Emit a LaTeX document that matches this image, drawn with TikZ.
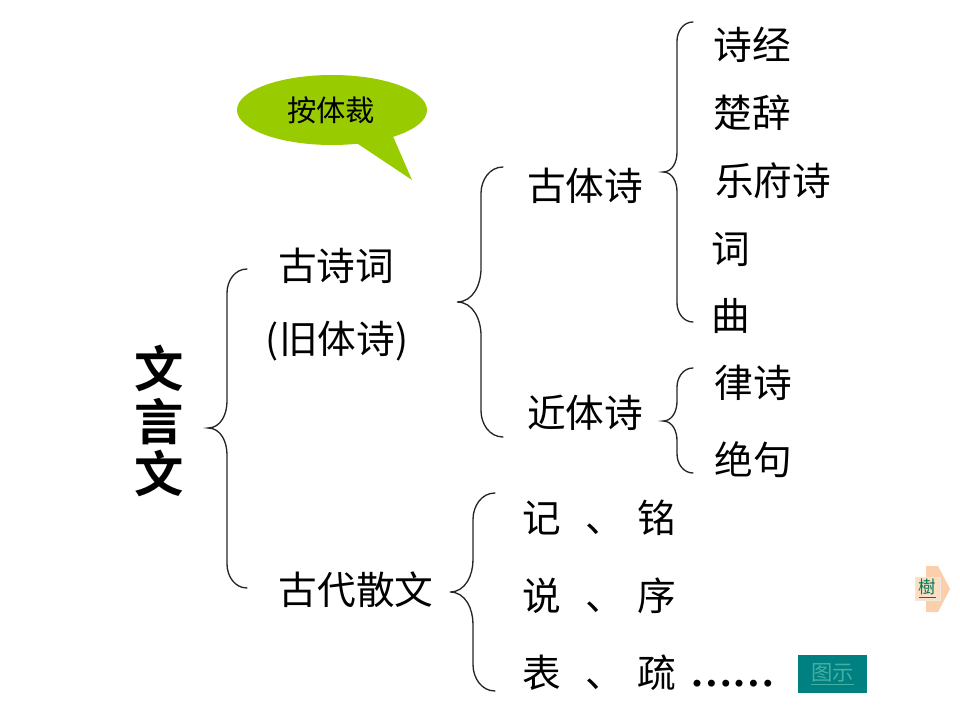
\documentclass[tikz,border=0pt]{standalone}
\usepackage{fontspec}
\newfontfamily\cjk{Noto Sans CJK SC}
\newfontfamily\cjkb{Noto Sans CJK SC Bold}
\newfontfamily\serifdots{Liberation Serif}
\definecolor{bubble}{RGB}{153,204,0}
\definecolor{tealbtn}{RGB}{0,128,128}
\definecolor{tealtxt}{RGB}{70,175,165}
\definecolor{peach}{RGB}{252,222,195}
\definecolor{arroworange}{RGB}{250,195,150}
\definecolor{treegreen}{RGB}{0,120,90}
\newcommand\curlybrace[6]{%
  \draw[bracestyle] (#1,#2) to[out=180,in=90] (#4,{#2+1.2*(#1-#4)})
    -- (#4,{#6-1.4*(#4-#5)}) to[out=-90,in=0] (#5,#6)
    to[out=0,in=90] (#4,{#6+1.4*(#4-#5)})
    -- (#4,{#3-1.2*(#1-#4)}) to[out=-90,in=180] (#1,#3);}
\begin{document}
\begin{tikzpicture}[x=0.75pt,y=-0.75pt,
  every node/.style={inner sep=0pt,outer sep=0pt},
  txt/.style={font=\cjk\fontsize{29}{29}\selectfont},
  bracestyle/.style={line width=1pt,draw=black!85,line cap=round}]
\useasboundingbox (0,0) rectangle (960,720);
\fill[white] (0,0) rectangle (960,720);

% speech bubble
\fill[bubble] (332,110) ellipse [x radius=95, y radius=35];
\fill[bubble] (352,140) -- (392,134) -- (412,180) -- cycle;
\node[font=\cjk\fontsize{22}{22}\selectfont] (bubtxt) at (331,110) {按体裁};

% root
\node[font=\cjkb\fontsize{37}{39.4}\selectfont,align=center] (wyw) at (159,421) {文\\言\\文};

% braces
\curlybrace{247}{269}{588}{227}{208}{428}
\curlybrace{503}{167}{437}{481}{457}{302}
\curlybrace{693}{22}{322}{677}{663}{172}
\curlybrace{693}{368}{473}{677}{663}{421}
\curlybrace{495}{493}{691}{473}{450}{592}

% level 1
\node[txt] (gsc) at (336,266) {古诗词};
\node[txt] (jts) at (337,341) {(旧体诗)};
\node[txt] (gdsw) at (356,590) {古代散文};

% level 2
\node[txt] (gts) at (585,186) {古体诗};
\node[txt] (jints) at (585,413) {近体诗};

% level 3
\node[txt] (sj) at (752,45) {诗经};
\node[txt] (cc) at (752,113) {楚辞};
\node[txt] (yfs) at (773,181) {乐府诗};
\node[txt] (ci) at (731,249) {词};
\node[txt] (qu) at (731,316) {曲};
\node[txt] (ls) at (753,383) {律诗};
\node[txt] (jj) at (753,460) {绝句};

% prose
\node[txt] (ji) at (542,518) {记};
\node[txt] (d1) at (605,529) {、};
\node[txt] (ming) at (657,518) {铭};
\node[txt] (shuo) at (542,596) {说};
\node[txt] (d2) at (605,607) {、};
\node[txt] (xu) at (657,596) {序};
\node[txt] (biao) at (542,673) {表};
\node[txt] (d3) at (605,684) {、};
\node[txt] (shu) at (657,673) {疏};
\node[font=\serifdots\bfseries\fontsize{32}{32}\selectfont,anchor=base west] (dots) at (690,686) {……};

% buttons
\node[fill=tealbtn,minimum width=51.75pt,minimum height=28.5pt,
      text=tealtxt,font=\cjk\fontsize{16}{16}\selectfont] (tushi) at (832.5,674) {\underline{图示}};
\fill[arroworange,opacity=0.8] (926,566) -- (938,566) -- (950,589) -- (938,612) -- (926,612) -- cycle;
\node[fill=peach,draw=peach!80!black!30,minimum width=18.75pt,minimum height=17.25pt,
      text=treegreen,font=\cjk\fontsize{13}{13}\selectfont] (shubtn) at (927.5,588.5) {\underline{樹}};
\end{tikzpicture}
\end{document}
